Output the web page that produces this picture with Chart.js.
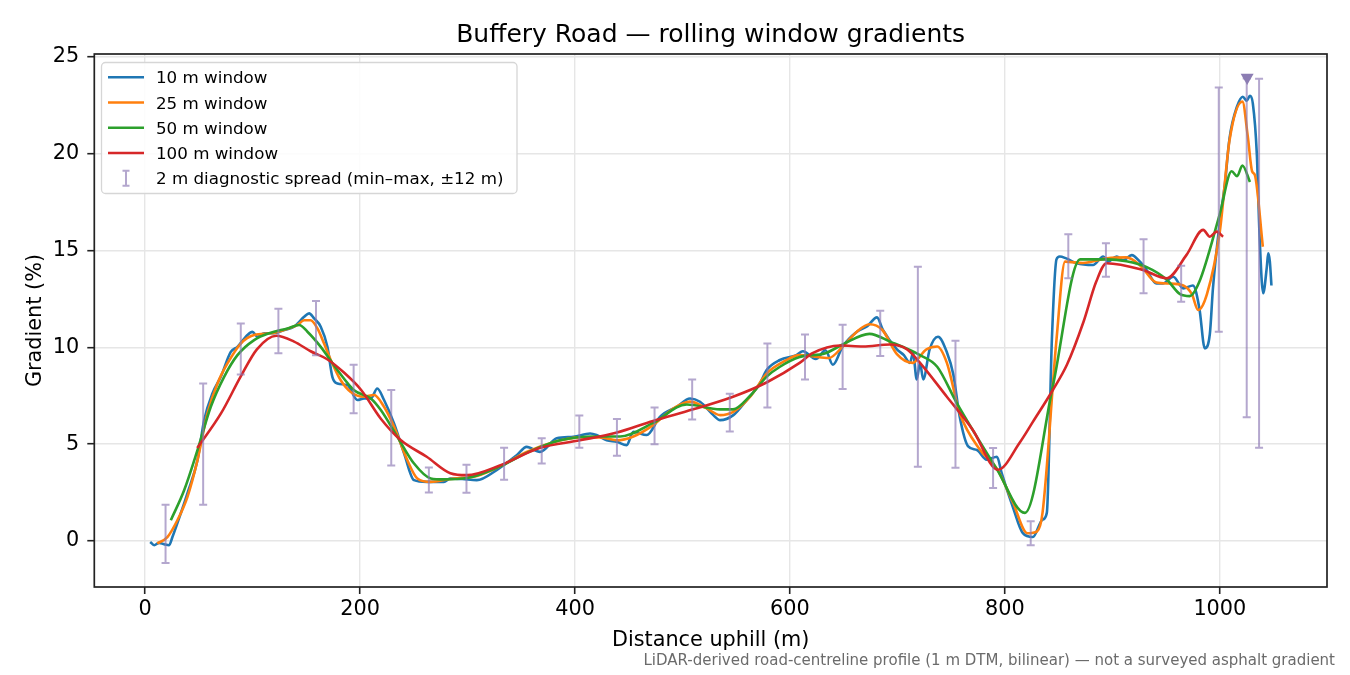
<!DOCTYPE html>
<html>
<head>
<meta charset="utf-8">
<title>Buffery Road — rolling window gradients</title>
<script src="https://cdn.jsdelivr.net/npm/chart.js@4.4.1/dist/chart.umd.min.js"></script>
<style>
  html, body { margin: 0; padding: 0; background: #fff; }
  #wrap { width: 1350px; height: 675px; position: relative; }
</style>
</head>
<body>
<div id="wrap"><canvas id="grad-chart"></canvas></div>
<script>
'use strict';

// *********** DATA *****************************************

// 10 m window
let dist10 = [4.7, 8.4, 13, 17.7, 22.3, 25.4, 33.2, 39.4, 48.7, 54.9, 62.6, 70.4, 79.7, 85.9, 95.2, 99.8, 104.5, 110.7, 120, 129.3,
  138.6, 147.9, 152.6, 157.2, 163.4, 169.6, 174.2, 178.9, 188.2, 197.5, 203.7, 210, 216, 222.3, 231.6, 241, 250.2, 262, 278, 283.7,
  295, 308.6, 327, 345.8, 355, 367.4, 383, 398.4, 414, 420, 429.5, 438.8, 448, 454.3, 466.7, 479, 494.6, 507, 516.3, 528.7,
  535, 547.3, 559.7, 572, 578.3, 590.7, 606, 612, 624, 633, 640, 649, 662, 672, 681, 686.5, 699.5, 706, 711.6, 714.5,
  718, 721, 724, 730, 737.7, 746, 752, 758, 765.6, 774, 783, 792.6, 797, 807.4, 816.7, 826, 835, 839, 843.7, 848,
  851, 857, 866.7, 882, 891.5, 896, 904, 910, 918, 925.6, 931.8, 941, 947, 956.6, 966, 975, 981, 986, 990.7, 993.6,
  1000, 1004.7, 1009, 1016, 1021.4, 1025, 1028, 1030.7, 1034.4, 1037, 1040.3, 1043.7, 1045, 1046.5, 1048];
let grad10 = [-0.05, -0.22, -0.1, -0.17, -0.22, 0.2, 1.43, 2.47, 4.17, 6.24, 7.62, 8.48, 9.77, 10.03, 10.64, 10.8, 10.55, 10.73, 10.73, 10.9,
  11.07, 11.58, 11.76, 11.5, 11.07, 10.03, 8.48, 8.14, 8.05, 7.28, 7.36, 7.36, 7.88, 7.28, 6.07, 4.52, 3.14, 3.05, 3.05, 3.23,
  3.2, 3.14, 3.66, 4.43, 4.86, 4.6, 5.3, 5.38, 5.55, 5.47, 5.2, 5.12, 4.95, 5.64, 5.47, 6.41, 6.93, 7.36, 7.19, 6.5,
  6.24, 6.5, 7.28, 8.14, 8.83, 9.35, 9.6, 9.8, 9.4, 9.85, 9.1, 10.05, 10.8, 11.1, 11.55, 10.9, 9.9, 9.6, 9.2, 9.7,
  8.35, 9.2, 8.35, 9.9, 10.55, 9.75, 8.6, 6.4, 4.9, 4.7, 4.2, 4.35, 3.5, 1.75, 0.4, 0.2, 1.1, 1.45, 10.4, 14.55,
  14.7, 14.6, 14.35, 14.26, 14.7, 14.43, 14.7, 14.5, 14.77, 14.43, 14.0, 13.3, 13.3, 13.65, 13.05, 13.2, 12.0, 9.95, 10.7, 13.07,
  16.5, 18.45, 20.8, 22.45, 22.95, 22.75, 23.0, 22.6, 20.0, 15.7, 12.8, 14.15, 14.86, 14.45, 13.2];

// 25 m window
let dist25 = [11.2, 20.7, 30, 39.4, 48.7, 58, 67.3, 76.6, 89, 101.4, 116.9, 129.3, 141.7, 148, 154, 160.3, 166.5, 172.7, 182, 191.3,
  203.7, 213, 222.3, 231.6, 244, 253.3, 265.8, 283.7, 308.6, 330, 355, 380, 404.6, 423, 438.8, 454.3, 473, 491.6, 507, 522.5,
  535, 547.3, 563, 578.3, 594, 609, 620, 636, 650, 662, 674, 686, 699.5, 714, 727, 737, 746, 758, 777, 793,
  807.4, 821, 830, 835, 848, 856, 872.6, 895, 913, 925.6, 941, 953, 966, 974, 979.8, 988, 1000, 1009, 1021, 1026,
  1030, 1032.6, 1040];
let grad25 = [-0.13, 0.2, 1.07, 2.28, 4.17, 6.6, 8.14, 9.17, 10.2, 10.64, 10.73, 10.9, 11.16, 11.4, 11.4, 10.98, 10.2, 9.35, 8.3, 7.7,
  7.45, 7.54, 6.93, 5.9, 4.17, 3.23, 3.05, 3.2, 3.36, 3.85, 4.6, 5.1, 5.35, 5.35, 5.2, 5.4, 6.0, 6.85, 7.2, 6.85,
  6.5, 6.67, 7.45, 8.65, 9.26, 9.6, 9.55, 9.45, 10.1, 10.8, 11.2, 10.9, 9.65, 9.2, 9.9, 10.05, 9.2, 6.6, 4.7, 3.7,
  2.0, 0.4, 0.5, 1.45, 10.4, 14.43, 14.36, 14.6, 14.65, 14.25, 13.35, 13.3, 13.2, 12.75, 11.93, 12.75, 16.0, 20.7, 22.7, 20.9,
  19.1, 18.9, 15.2];

// 50 m window
let dist50 = [23.9, 36.3, 48.7, 61.1, 73.5, 85.9, 101.4, 116.9, 132.4, 143.3, 151, 163.4, 178.9, 194.4, 210, 219.3, 234.7, 250.2, 265.8, 278,
  299.5, 330, 355, 386, 416.7, 442, 472.6, 504, 535, 547, 563, 578.6, 590.7, 609, 633, 649, 674, 693, 721, 737,
  755, 792.6, 818.6, 844.6, 870, 895, 913, 932, 950.7, 963, 972, 981, 1000, 1011, 1016, 1021, 1028];
let grad50 = [1.07, 2.62, 4.69, 6.93, 8.48, 9.6, 10.38, 10.76, 10.98, 11.16, 10.81, 10.03, 8.83, 7.79, 7.36, 6.76, 5.38, 4.0, 3.23, 3.18,
  3.25, 3.85, 4.55, 5.2, 5.4, 5.4, 6.1, 7.05, 6.8, 6.8, 7.5, 8.5, 9.0, 9.5, 9.7, 10.15, 10.7, 10.3, 9.6, 9.0,
  7.15, 3.7, 1.45, 8.0, 14.55, 14.55, 14.45, 14.15, 13.5, 12.75, 12.65, 13.4, 16.9, 19.1, 18.85, 19.4, 18.55];

// 100 m window
let dist100 = [48.5, 70.7, 89, 104, 122, 138.6, 154, 169, 185, 201, 219.5, 238, 262, 284, 299.5, 330, 367, 404.6, 439, 472.6,
  510, 547, 578.6, 609, 621, 646.5, 668, 693, 709, 721, 746, 770, 793.5, 814, 826, 844.6, 857.7, 873, 885, 894.6,
  928.4, 950.4, 969, 984.5, 990.7, 997, 1003];
let grad100 = [4.8, 6.6, 8.5, 9.9, 10.6, 10.3, 9.8, 9.4, 8.7, 7.8, 6.3, 5.2, 4.35, 3.5, 3.4, 3.9, 4.8, 5.2, 5.6, 6.2,
  6.8, 7.45, 8.2, 9.2, 9.7, 10.1, 10.05, 10.15, 9.9, 9.2, 7.45, 5.75, 3.68, 5.1, 6.15, 7.8, 9.1, 11.3, 13.4, 14.35,
  14.0, 13.57, 14.78, 16.07, 15.72, 15.98, 15.72];

// 2 m diagnostic spread (min-max over +-12 m)
let spreadDist = [19, 54, 89, 124, 159, 194, 229, 264, 299, 334, 369, 404, 439, 474, 509, 544, 579, 614, 649, 684,
  719, 754, 789, 824, 859, 894, 929, 964, 999, 1025, 1036.5];
let spreadLo = [-1.14, 1.87, 8.6, 9.7, 9.6, 6.6, 3.9, 2.5, 2.49, 3.16, 4.0, 4.82, 4.4, 5.0, 6.27, 5.65, 6.9, 8.34, 7.85, 9.55,
  3.83, 3.78, 2.73, -0.22, 13.57, 13.65, 12.8, 12.36, 10.81, 6.39, 4.81];
let spreadHi = [1.87, 8.13, 11.24, 12.0, 12.4, 9.1, 7.8, 3.8, 3.94, 4.82, 5.3, 6.48, 6.3, 6.9, 8.34, 7.6, 10.2, 10.67, 11.17, 11.9,
  14.17, 10.34, 4.8, 1.02, 15.85, 15.38, 15.59, 14.22, 23.43, 23.9, 23.88];

// steepest point marker
let peakDist = [1025.4];
let peakGrad = [23.95];

let xTicks = [0, 200, 400, 600, 800, 1000];
let yTicks = [0, 5, 10, 15, 20, 25];

let seriesNames = ['10 m window', '25 m window', '50 m window', '100 m window'];
let seriesColors = ['#1f77b4', '#ff7f0e', '#2ca02c', '#d62728'];
let spreadLabel = '2 m diagnostic spread (min\u2013max, \u00b112 m)';

// ********** HELPERS ********************

const FONT = '"DejaVu Sans", "Liberation Sans", sans-serif';
const SPREAD_COLOR = 'rgba(140, 120, 180, 0.65)';

function toPoints(xs, ys){
  let pts = [];
  for(let i=0;i<xs.length;i++){
    pts.push({x: xs[i], y: ys[i]});
  }
  return pts;
}

function lineSet(i, xs, ys){
  return {
    label: seriesNames[i],
    data: toPoints(xs, ys),
    borderColor: seriesColors[i],
    backgroundColor: seriesColors[i],
    borderWidth: 2.6,
    pointRadius: 0,
    fill: false,
    cubicInterpolationMode: 'monotone',
    order: 4 - i
  };
}

function drawSpread(chart){
  let ctx = chart.ctx;
  let xs = chart.scales.x;
  let ys = chart.scales.y;
  let area = chart.chartArea;
  ctx.save();
  ctx.beginPath();
  ctx.rect(area.left, area.top, area.right - area.left, area.bottom - area.top);
  ctx.clip();
  ctx.strokeStyle = SPREAD_COLOR;
  ctx.lineWidth = 2;
  for(let i=0;i<spreadDist.length;i++){
    let px = xs.getPixelForValue(spreadDist[i]);
    let top = ys.getPixelForValue(spreadHi[i]);
    let bot = ys.getPixelForValue(spreadLo[i]);
    ctx.beginPath();
    ctx.moveTo(px, top);
    ctx.lineTo(px, bot);
    ctx.moveTo(px - 4, top);
    ctx.lineTo(px + 4, top);
    ctx.moveTo(px - 4, bot);
    ctx.lineTo(px + 4, bot);
    ctx.stroke();
  }
  ctx.restore();
}

function roundRect(ctx, x, y, w, h, r){
  ctx.beginPath();
  ctx.moveTo(x + r, y);
  ctx.lineTo(x + w - r, y);
  ctx.arcTo(x + w, y, x + w, y + r, r);
  ctx.lineTo(x + w, y + h - r);
  ctx.arcTo(x + w, y + h, x + w - r, y + h, r);
  ctx.lineTo(x + r, y + h);
  ctx.arcTo(x, y + h, x, y + h - r, r);
  ctx.lineTo(x, y + r);
  ctx.arcTo(x, y, x + r, y, r);
  ctx.closePath();
}

function drawLegend(ctx){
  let left = 101.5, top = 62.5, w = 415.5, h = 131;
  ctx.save();
  roundRect(ctx, left, top, w, h, 4);
  ctx.fillStyle = 'rgba(255,255,255,0.85)';
  ctx.fill();
  ctx.strokeStyle = '#d6d6d6';
  ctx.lineWidth = 1.3;
  ctx.stroke();

  ctx.font = '16.7px ' + FONT;
  ctx.textBaseline = 'alphabetic';
  ctx.textAlign = 'left';
  ctx.fillStyle = '#000';
  let rows = [77.3, 102.5, 127.7, 153, 178.3];
  for(let i=0;i<seriesNames.length;i++){
    ctx.strokeStyle = seriesColors[i];
    ctx.lineWidth = 2.6;
    ctx.beginPath();
    ctx.moveTo(108, rows[i]);
    ctx.lineTo(144, rows[i]);
    ctx.stroke();
    ctx.fillText(seriesNames[i], 156, rows[i] + 6);
  }
  // error bar sample
  let r = rows[4];
  ctx.strokeStyle = SPREAD_COLOR;
  ctx.lineWidth = 2;
  ctx.beginPath();
  ctx.moveTo(126, r - 7.5);
  ctx.lineTo(126, r + 7.5);
  ctx.moveTo(122.5, r - 7.5);
  ctx.lineTo(129.5, r - 7.5);
  ctx.moveTo(122.5, r + 7.5);
  ctx.lineTo(129.5, r + 7.5);
  ctx.stroke();
  ctx.fillText(spreadLabel, 156, r + 6);
  ctx.restore();
}

// ********** PLUGIN: error bars, frame, texts ********

const overlay = {
  id: 'overlay',
  beforeDatasetDraw(chart, args){
    if(args.index === 4){
      drawSpread(chart);
    }
  },
  afterDraw(chart){
    let ctx = chart.ctx;
    let a = chart.chartArea;
    ctx.save();
    // axes frame
    ctx.strokeStyle = '#222';
    ctx.lineWidth = 1.7;
    ctx.strokeRect(a.left, a.top, a.right - a.left, a.bottom - a.top);

    drawLegend(ctx);

    ctx.fillStyle = '#000';
    ctx.textAlign = 'center';
    ctx.textBaseline = 'alphabetic';
    ctx.font = '25px ' + FONT;
    ctx.fillText('Buffery Road \u2014 rolling window gradients', (a.left + a.right) / 2, 42);

    ctx.font = '20.8px ' + FONT;
    ctx.fillText('Distance uphill (m)', (a.left + a.right) / 2, 646);

    ctx.save();
    ctx.translate(41, (a.top + a.bottom) / 2);
    ctx.rotate(-Math.PI / 2);
    ctx.fillText('Gradient (%)', 0, 0);
    ctx.restore();

    ctx.font = '15px ' + FONT;
    ctx.fillStyle = '#6b6b6b';
    ctx.textAlign = 'right';
    ctx.fillText('LiDAR-derived road-centreline profile (1 m DTM, bilinear) \u2014 not a surveyed asphalt gradient', 1335, 665);
    ctx.restore();
  }
};

// *********** RENDER CHART ****************

let ctx = document.getElementById('grad-chart').getContext('2d');

let datasets = [
  lineSet(0, dist10, grad10),
  lineSet(1, dist25, grad25),
  lineSet(2, dist50, grad50),
  lineSet(3, dist100, grad100),
  {
    label: 'peak',
    data: toPoints(peakDist, peakGrad),
    showLine: false,
    pointStyle: 'triangle',
    rotation: 180,
    pointRadius: 7.5,
    pointBorderWidth: 0,
    pointBackgroundColor: '#8c7db3',
    pointBorderColor: '#8c7db3',
    order: -1
  }
];

let tickFont = { family: FONT, size: 20.8 };

new Chart(ctx, {
  type: 'line',
  data: { datasets: datasets },
  plugins: [overlay],
  options: {
    responsive: true,
    maintainAspectRatio: false,
    animation: false,
    events: [],
    layout: { padding: { top: 54, right: 23, left: 0, bottom: 0 } },
    plugins: {
      legend: { display: false },
      tooltip: { enabled: false },
      title: { display: false }
    },
    scales: {
      x: {
        type: 'linear',
        min: -47.3,
        max: 1099.7,
        afterBuildTicks: (s) => { s.ticks = xTicks.map(v => ({ value: v })); },
        afterFit: (s) => { s.height = 88; },
        border: { display: false },
        grid: { color: '#e6e6e6', lineWidth: 1.4, tickColor: '#222', tickWidth: 1.6, tickLength: 7 },
        ticks: { font: tickFont, color: '#000', padding: 3, maxRotation: 0, callback: (v) => String(v) }
      },
      y: {
        type: 'linear',
        min: -2.38,
        max: 25.16,
        afterBuildTicks: (s) => { s.ticks = yTicks.map(v => ({ value: v })); },
        afterFit: (s) => { s.width = 94.3; },
        border: { display: false },
        grid: { color: '#e6e6e6', lineWidth: 1.4, tickColor: '#222', tickWidth: 1.6, tickLength: 7 },
        ticks: { font: tickFont, color: '#000', padding: 8, callback: (v) => String(v) }
      }
    }
  }
});
</script>
</body>
</html>
